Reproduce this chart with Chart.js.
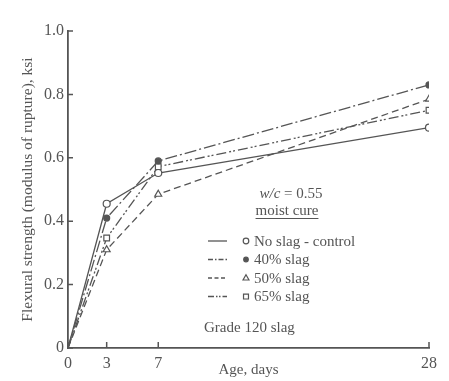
<!DOCTYPE html>
<html>
<head>
<meta charset="utf-8">
<script src="https://cdn.jsdelivr.net/npm/chart.js@4"></script>
<style>
  body { margin: 0; background: #fff; }
  #wrap { width: 449px; height: 381px; }
</style>
</head>
<body>
<div id="wrap"><canvas id="grafico"></canvas></div>
<script>
// ========== DADOS ==========
const dias = [0, 3, 7, 28];
const ticksX = [0, 3, 7, 28];
const ticksY = [0, 0.2, 0.4, 0.6, 0.8, 1.0];

const semEscoria = [0, 0.455, 0.552, 0.695];
const escoria40 = [0, 0.41, 0.59, 0.83];
const escoria50 = [0, 0.31, 0.485, 0.785];
const escoria65 = [0, 0.347, 0.572, 0.75];

const rotulos = ['No slag - control', '40% slag', '50% slag', '65% slag'];

const corLinha = '#555';
const corTexto = '#555';
const fonteSerif = '"Liberation Serif", "DejaVu Serif", serif';

function pontos(valores) {
    return dias.map((d, i) => ({ x: d, y: valores[i] }));
}

const estilos = [
    { dash: [], ponto: 'circle', fill: '#fff', raio: 3.5 },
    { dash: [12, 3, 2, 3], ponto: 'circle', fill: corLinha, raio: 3 },
    { dash: [7, 4], ponto: 'triangle', fill: '#fff', raio: 4 },
    { dash: [10, 3, 2, 2, 2, 3], ponto: 'rect', fill: '#fff', raio: 4 }
];

const series = [semEscoria, escoria40, escoria50, escoria65];

const datasets = series.map((s, i) => ({
    label: rotulos[i],
    data: pontos(s),
    borderColor: corLinha,
    borderWidth: 1.3,
    borderDash: estilos[i].dash,
    pointStyle: estilos[i].ponto,
    pointRadius: dias.map(d => d === 0 ? 0 : estilos[i].raio),
    pointBackgroundColor: estilos[i].fill,
    pointBorderColor: corLinha,
    pointBorderWidth: 1.2,
    tension: 0
}));

// ========== DESENHAR MARCADOR ==========
function desenharMarcador(ctx, tipo, x, y, r, fill) {
    ctx.save();
    ctx.setLineDash([]);
    ctx.strokeStyle = corLinha;
    ctx.fillStyle = fill;
    ctx.lineWidth = 1.2;
    ctx.beginPath();
    if (tipo === 'circle') {
        ctx.arc(x, y, r, 0, Math.PI * 2);
    } else if (tipo === 'triangle') {
        ctx.moveTo(x, y - r);
        ctx.lineTo(x + r * 0.9, y + r * 0.6);
        ctx.lineTo(x - r * 0.9, y + r * 0.6);
        ctx.closePath();
    } else {
        ctx.rect(x - r * 0.75, y - r * 0.75, r * 1.5, r * 1.5);
    }
    ctx.fill();
    ctx.stroke();
    ctx.restore();
}

// ========== PLUGIN: TICKS INTERNOS + LEGENDA ==========
const anotacoes = {
    id: 'anotacoes',
    afterDraw(chart) {
        const ctx = chart.ctx;
        const sx = chart.scales.x;
        const sy = chart.scales.y;

        // ticks para dentro
        ctx.save();
        ctx.strokeStyle = corLinha;
        ctx.lineWidth = 1.5;
        ctx.beginPath();
        ticksY.forEach(v => {
            const py = sy.getPixelForValue(v);
            ctx.moveTo(sx.left, py);
            ctx.lineTo(sx.left + 5, py);
        });
        ticksX.forEach(v => {
            const px = sx.getPixelForValue(v);
            ctx.moveTo(px, sy.bottom);
            ctx.lineTo(px, sy.bottom - 6);
        });
        ctx.stroke();
        ctx.restore();

        // textos
        ctx.save();
        ctx.fillStyle = corTexto;
        ctx.textBaseline = 'alphabetic';
        ctx.font = 'italic 15px ' + fonteSerif;
        const wItal = ctx.measureText('w/c').width;
        ctx.font = '15px ' + fonteSerif;
        const wResto = ctx.measureText(' = 0.55').width;
        const xWc = 291 - (wItal + wResto) / 2;
        ctx.font = 'italic 15px ' + fonteSerif;
        ctx.fillText('w/c', xWc, 198);
        ctx.font = '15px ' + fonteSerif;
        ctx.fillText(' = 0.55', xWc + wItal, 198);

        ctx.textAlign = 'center';
        ctx.fillText('moist cure', 287, 215);
        const wm = ctx.measureText('moist cure').width;
        ctx.strokeStyle = corTexto;
        ctx.lineWidth = 1;
        ctx.beginPath();
        ctx.moveTo(287 - wm / 2, 218.5);
        ctx.lineTo(287 + wm / 2, 218.5);
        ctx.stroke();

        // legenda
        ctx.textAlign = 'left';
        ctx.textBaseline = 'middle';
        chart.data.datasets.forEach((ds, i) => {
            const y = 241 + i * 18.5;
            ctx.save();
            ctx.strokeStyle = corLinha;
            ctx.lineWidth = 1.3;
            ctx.setLineDash(i === 0 ? [] : [5, 2, 1.5, 2]);
            if (i === 2) ctx.setLineDash([4, 2.5]);
            if (i === 3) ctx.setLineDash([6, 2, 1.5, 1.5, 1.5, 2]);
            ctx.beginPath();
            ctx.moveTo(208, y);
            ctx.lineTo(227, y);
            ctx.stroke();
            ctx.restore();
            desenharMarcador(ctx, estilos[i].ponto, 246, y, estilos[i].raio - 0.7, estilos[i].fill);
            ctx.fillText(ds.label, 254, y + 1);
        });

        ctx.fillText('Grade 120 slag', 204, 328);
        ctx.restore();
    }
};

// ========== CRIAR GRÁFICO ==========
const grafico = new Chart(document.getElementById('grafico').getContext('2d'), {
    type: 'line',
    data: { datasets },
    options: {
        responsive: true,
        maintainAspectRatio: false,
        animation: false,
        layout: { padding: { left: 0, top: 31, right: 20, bottom: 0 } },
        plugins: {
            legend: { display: false },
            tooltip: { enabled: false }
        },
        scales: {
            x: {
                type: 'linear',
                min: 0,
                max: 28,
                afterBuildTicks: s => { s.ticks = ticksX.map(v => ({ value: v })); },
                afterFit: s => { s.height = 33; },
                grid: { display: false, drawTicks: false },
                border: { display: true, color: corLinha, width: 1.8 },
                ticks: {
                    color: corTexto,
                    padding: 6,
                    maxRotation: 0,
                    font: { family: fonteSerif, size: 16 }
                },
                title: {
                    display: true,
                    text: 'Age, days',
                    color: corTexto,
                    padding: { top: -4, bottom: 2 },
                    font: { family: fonteSerif, size: 15 }
                }
            },
            y: {
                min: 0,
                max: 1.0,
                afterBuildTicks: s => { s.ticks = ticksY.map(v => ({ value: v })); },
                afterFit: s => { s.width = 68; },
                grid: { display: false, drawTicks: false },
                border: { display: true, color: corLinha, width: 1.8 },
                ticks: {
                    color: corTexto,
                    padding: 4,
                    font: { family: fonteSerif, size: 16 },
                    callback: v => v === 0 ? '0' : v.toFixed(1)
                },
                title: {
                    display: true,
                    text: 'Flexural strength (modulus of rupture), ksi',
                    color: corTexto,
                    padding: { top: 19, bottom: 0 },
                    font: { family: fonteSerif, size: 15.5 }
                }
            }
        }
    },
    plugins: [anotacoes]
});
</script>
</body>
</html>
